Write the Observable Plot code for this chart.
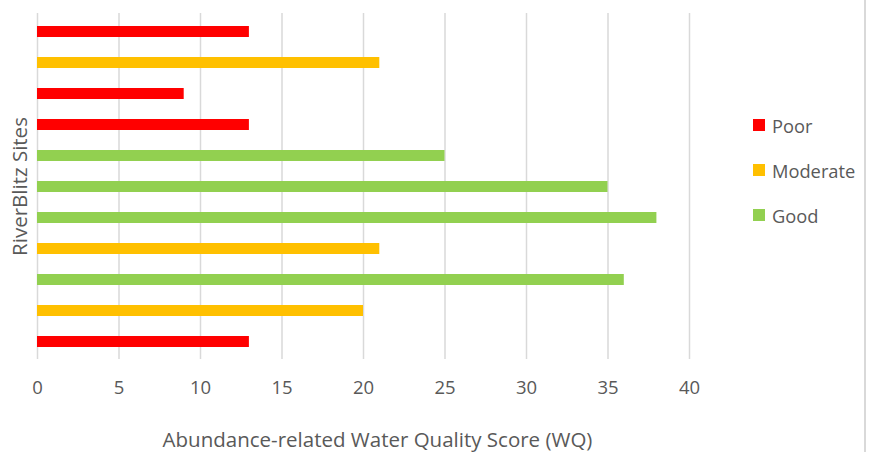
<!DOCTYPE html>
<html>
<head>
<meta charset="utf-8">
<script src="https://cdn.jsdelivr.net/npm/d3@7"></script>
<script src="https://cdn.jsdelivr.net/npm/@observablehq/plot@0.6"></script>
<style>
  html, body { margin: 0; padding: 0; background: #fff; }
  #wrap { position: relative; width: 872px; height: 452px; font-family: "Open Sans", sans-serif; }
  #legend { position: absolute; left: 753px; top: 112px; color: #595959; font-size: 18.3px; }
  .item { display: flex; align-items: center; height: 26px; margin-bottom: 19px; }
  .sw { width: 12px; height: 12px; margin-right: 7px; }
  #border { position: absolute; left: 864px; top: 0; width: 2px; height: 452px; background: #d9d9d9; }
</style>
</head>
<body>
<div id="wrap"><div id="border"></div><div id="legend"></div></div>
<script>
const sites = ["Site 1","Site 2","Site 3","Site 4","Site 5","Site 6","Site 7","Site 8","Site 9","Site 10","Site 11"];
const scores = [13, 21, 9, 13, 25, 35, 38, 21, 36, 20, 13];
const quality = ["Poor","Moderate","Poor","Poor","Good","Good","Good","Moderate","Good","Moderate","Poor"];
const classes = ["Poor", "Moderate", "Good"];
const classColors = ["#FF0000", "#FFC000", "#92D050"];
const xTicks = [0, 5, 10, 15, 20, 25, 30, 35, 40];
const xTitle = "Abundance-related Water Quality Score (WQ)";
const yTitle = "RiverBlitz Sites";

const data = sites.map((s, i) => ({site: s, score: scores[i], quality: quality[i]}));

const chart = Plot.plot({
  width: 872,
  height: 452,
  marginLeft: 37,
  marginRight: 183,
  marginTop: 13,
  marginBottom: 93,
  style: {fontFamily: "'Open Sans', sans-serif", color: "#595959", background: "transparent"},
  x: {domain: [0, 40]},
  y: {domain: sites, paddingInner: 0.65, paddingOuter: 0.325},
  color: {domain: classes, range: classColors},
  marks: [
    Plot.ruleX(xTicks, {stroke: "#d9d9d9", strokeWidth: 1.5, strokeOpacity: 1}),
    Plot.barX(data, {x: "score", y: "site", fill: "quality"}),
    Plot.axisX(xTicks, {tickSize: 0, tickPadding: 21, fontSize: 18.5, label: null}),
    Plot.text([xTitle], {frameAnchor: "bottom", lineAnchor: "middle", dy: 81, dx: 14, fontSize: 20.5, fill: "#595959"}),
    Plot.axisY({ticks: [], tickSize: 0, label: yTitle, labelAnchor: "center", labelArrow: "none", labelOffset: 25, fontSize: 20.5})
  ]
});
document.getElementById("wrap").prepend(chart);

const legend = document.getElementById("legend");
classes.forEach((c, i) => {
  const d = document.createElement("div");
  d.className = "item";
  d.innerHTML = `<span class="sw" style="background:${classColors[i]}"></span><span>${c}</span>`;
  legend.appendChild(d);
});
</script>
</body>
</html>
